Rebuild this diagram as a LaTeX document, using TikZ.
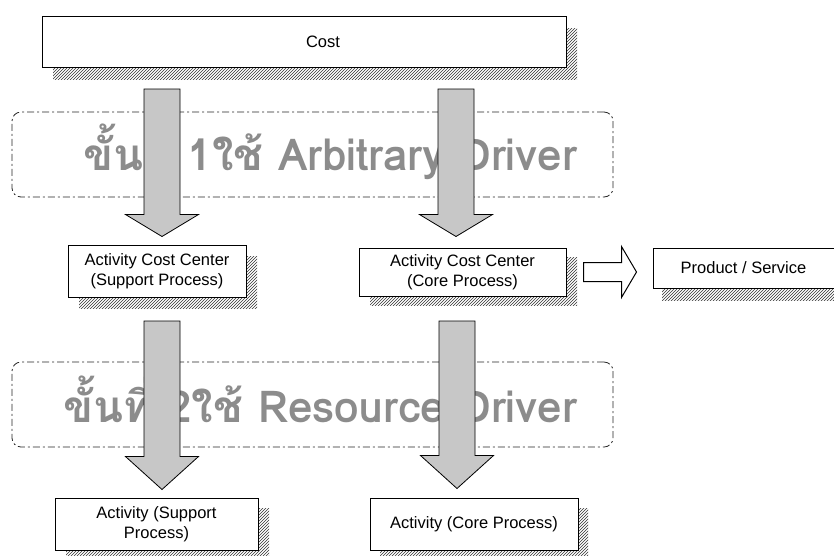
\documentclass[tikz,border=0pt]{standalone}
\usepackage{fontspec}
\setmainfont{Liberation Sans}
\newfontfamily\thaifont[Script=Thai]{Loma}
\usetikzlibrary{calc,shadows,patterns}

\tikzset{
  box/.style={draw, line width=1pt, fill=white, align=center, inner sep=0pt,
    font=\fontsize{16.5}{20}\selectfont},
  shadowed/.style 2 args={general shadow={shadow xshift=#1, shadow yshift=#2,
    pattern=north east lines, pattern color=black!80}},
  stagebox/.style={draw=black!85, line width=0.8pt, rounded corners=9pt,
    dash pattern=on 7pt off 3pt on 2pt off 3pt,
    minimum width=601pt, minimum height=85pt, inner sep=0pt},
  stagetext/.style={font=\thaifont\bfseries\fontsize{44}{46}\selectfont, text=black!45,
    inner sep=0pt, anchor=base east},
  fatarrow/.style={draw, line width=0.8pt, fill=black!22},
  hollowarrow/.style={draw, line width=1pt, fill=white}
}

% #1 top of shaft, #2 tip, #3 head length
\newcommand{\downblock}[3]{%
  \draw[fatarrow] ($(#1)+(-18,0)$) -- ($(#2)+(-18,-#3)$) -- ($(#2)+(-36.5,-#3)$) -- (#2)
    -- ($(#2)+(36.5,-#3)$) -- ($(#2)+(18,-#3)$) -- ($(#1)+(18,0)$) -- cycle;}

\begin{document}
\begin{tikzpicture}[x=1pt,y=-1pt]
  \clip (0,0) rectangle (834,555);
  \fill[white] (0,0) rectangle (834,555);

  % boxes
  \node[box, shadowed={11pt}{-12pt}, minimum width=524pt, minimum height=51pt]
    (cost) at (304,41.5) {\hspace*{38pt}Cost};
  \node[box, shadowed={11pt}{-11pt}, minimum width=178pt, minimum height=52pt]
    (acsupport) at (157,271) {Activity Cost Center\\(Support Process)};
  \node[box, shadowed={11pt}{-9pt}, minimum width=207pt, minimum height=48pt]
    (accore) at (462.5,272) {Activity Cost Center\\(Core Process)};
  \node[box, shadowed={9pt}{-12pt}, minimum width=181pt, minimum height=40pt]
    (product) at (743.5,268) {Product / Service};
  \node[box, shadowed={11pt}{-10pt}, minimum width=203pt, minimum height=52pt]
    (actsupport) at (156.5,524) {Activity (Support\\Process)};
  \node[box, shadowed={10pt}{-10pt}, minimum width=208pt, minimum height=52pt]
    (actcore) at (474,524) {Activity (Core Process)};

  % stages
  \node[stagebox] (stage1) at (312.5,154.5) {};
  \node[stagebox] (stage2) at (312.5,404.5) {};
  \node[stagetext] (stage1txt) at (577,170) {ขั้นที่ 1ใช้ Arbitrary Driver};
  \node[stagetext] (stage2txt) at (577,422) {ขั้นที่ 2ใช้ Resource Driver};

  % arrows
  \coordinate (t1) at (162,89);
  \coordinate (t2) at (456,89);
  \coordinate (t3) at (162,321);
  \coordinate (t4) at (457,321);
  \coordinate (h1) at ($(t1 |- acsupport.north)+(0,-8)$);
  \coordinate (h2) at ($(t2 |- accore.north)+(0,-11)$);
  \coordinate (h3) at ($(t3 |- actsupport.north)+(0,-8)$);
  \coordinate (h4) at ($(t4 |- actcore.north)+(0,-9)$);
  \downblock{t1}{h1}{22}
  \downblock{t2}{h2}{22}
  \downblock{t3}{h3}{33}
  \downblock{t4}{h4}{33}

  \coordinate (r1) at ($(accore.east)+(17,0)$);
  \coordinate (r2) at ($(r1 -| product.west)+(-16,0)$);
  \draw[hollowarrow] ($(r1)+(0,-9.5)$) -- ($(r2)+(-15,-9.5)$) -- ($(r2)+(-15,-25.5)$) -- (r2)
    -- ($(r2)+(-15,25.5)$) -- ($(r2)+(-15,9.5)$) -- ($(r1)+(0,9.5)$) -- cycle;
\end{tikzpicture}
\end{document}
